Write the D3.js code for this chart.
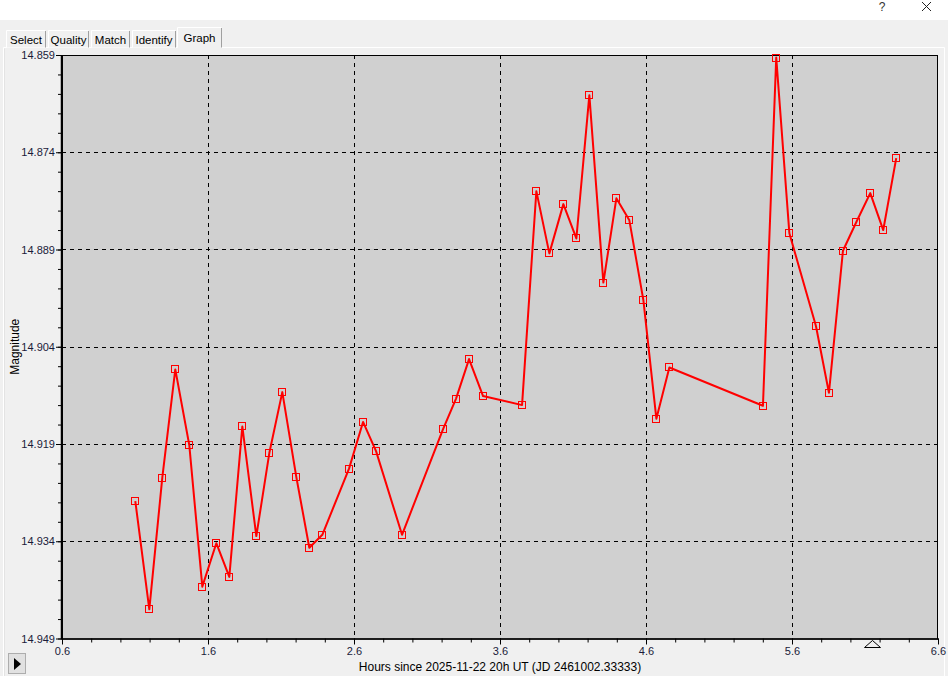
<!DOCTYPE html>
<html>
<head>
<meta charset="utf-8">
<script src="https://cdn.jsdelivr.net/npm/d3@7"></script>
<style>
  html, body { margin: 0; padding: 0; background: #f0f0f0; }
  svg { display: block; font-family: "Liberation Sans", Arial, sans-serif; }
</style>
</head>
<body>
<svg id="chart" width="948" height="676"></svg>
<script>
// ---- Data ----
const hours = [1.102, 1.198, 1.287, 1.376, 1.472, 1.561, 1.657, 1.746, 1.835, 1.931,
               2.020, 2.109, 2.205, 2.294, 2.383, 2.566, 2.662, 2.751, 2.929, 3.210,
               3.299, 3.388, 3.484, 3.751, 3.849, 3.938, 4.034, 4.123, 4.212, 4.308,
               4.397, 4.486, 4.582, 4.671, 4.760, 5.401, 5.492, 5.582, 5.764, 5.853,
               5.949, 6.040, 6.136, 6.225, 6.314];
const magnitudes = [14.9278, 14.9445, 14.9242, 14.9075, 14.9192, 14.9410, 14.9343, 14.9395, 14.9163, 14.9332,
                    14.9204, 14.9110, 14.9241, 14.9350, 14.9330, 14.9228, 14.9156, 14.9201, 14.9330, 14.9167,
                    14.9120, 14.9059, 14.9116, 14.9130, 14.8800, 14.8896, 14.8820, 14.8873, 14.8652, 14.8941,
                    14.8811, 14.8845, 14.8968, 14.9151, 14.9072, 14.9131, 14.8594, 14.8865, 14.9008, 14.9111,
                    14.8892, 14.8848, 14.8803, 14.8860, 14.8749];
const xTickValues = [0.6, 1.6, 2.6, 3.6, 4.6, 5.6, 6.6];
const xTickLabels = ["0.6", "1.6", "2.6", "3.6", "4.6", "5.6", "6.6"];
const yTickValues = [14.859, 14.874, 14.889, 14.904, 14.919, 14.934, 14.949];
const yTickLabels = ["14.859", "14.874", "14.889", "14.904", "14.919", "14.934", "14.949"];
const tabNames = ["Select", "Quality", "Match", "Identify", "Graph"];
const markerHour = [6.15];
const xTitle = "Hours since 2025-11-22 20h UT (JD 2461002.33333)";
const yTitle = "Magnitude";

// ---- Layout ----
const svg = d3.select("#chart");
const L = 62, R = 938, T = 55, B = 638.5;
const x = d3.scaleLinear().domain([0.6, 6.6]).range([L, R]);
const y = d3.scaleLinear().domain([14.859, 14.949]).range([T, B]);

// window chrome
svg.append("rect").attr("x", 0).attr("y", 0).attr("width", 948).attr("height", 676).attr("fill", "#f0f0f0");
svg.append("rect").attr("x", 0).attr("y", 0).attr("width", 948).attr("height", 20).attr("fill", "#ffffff");
svg.append("text").attr("x", 882).attr("y", 11).attr("font-size", 12).attr("text-anchor", "middle").attr("fill", "#333").text("?");
svg.append("path").attr("d", "M922,2 L931,11 M931,2 L922,11").attr("stroke", "#222").attr("stroke-width", 1).attr("fill", "none");

// tab panel border
svg.append("path").attr("d", "M3.5,676 L3.5,47.5 L944.5,47.5 L944.5,676")
  .attr("fill", "none").attr("stroke", "#ffffff").attr("stroke-width", 1);
svg.append("path").attr("d", "M4.5,676 L4.5,48.5")
  .attr("fill", "none").attr("stroke", "#e3e3e3").attr("stroke-width", 1);

// tabs
const tabEdges = [5, 47, 90, 131, 177, 222];
const tabs = svg.append("g");
tabNames.forEach((name, i) => {
  const sel = name === "Graph";
  const x0 = tabEdges[i] + (sel ? 0 : 1), x1 = tabEdges[i + 1] - (sel ? 0 : 1);
  const top = sel ? 27 : 30;
  tabs.append("rect").attr("x", x0 + 0.5).attr("y", top + 0.5).attr("width", x1 - x0 - 1).attr("height", 47 - top + (sel ? 1 : 0))
    .attr("fill", sel ? "#f0f0f0" : "#f0f0f0").attr("stroke", "none");
  tabs.append("path").attr("d", `M${x0 + 0.5},47.5 L${x0 + 0.5},${top + 0.5} L${x1 - 0.5},${top + 0.5}`)
    .attr("fill", "none").attr("stroke", "#ffffff");
  tabs.append("path").attr("d", `M${x1 - 0.5},${top + 1} L${x1 - 0.5},47.5`)
    .attr("fill", "none").attr("stroke", "#a0a0a0");
  tabs.append("text").attr("x", (x0 + x1) / 2).attr("y", sel ? 42 : 44).attr("font-size", 11.5)
    .attr("text-anchor", "middle").attr("fill", "#000").text(name);
});

// plot background
svg.append("rect").attr("x", L).attr("y", T).attr("width", R - L).attr("height", B - T).attr("fill", "#d0d0d0");

// grid
const grid = svg.append("g").attr("stroke", "#000").attr("stroke-width", 1).attr("stroke-dasharray", "4,4");
xTickValues.slice(1, -1).forEach(v => {
  const px = Math.round(x(v)) + 0.5;
  grid.append("line").attr("x1", px).attr("x2", px).attr("y1", T).attr("y2", B);
});
yTickValues.slice(1, -1).forEach(v => {
  const py = Math.round(y(v)) + 0.5;
  grid.append("line").attr("x1", L).attr("x2", R).attr("y1", py).attr("y2", py);
});

// frame
svg.append("rect").attr("x", L + 0.5).attr("y", T + 0.5).attr("width", R - L - 1).attr("height", B - T)
  .attr("fill", "none").attr("stroke", "#000").attr("stroke-width", 1);
svg.append("line").attr("x1", L).attr("x2", R).attr("y1", B + 0.5).attr("y2", B + 0.5).attr("stroke", "#000").attr("stroke-width", 1.5);
svg.append("line").attr("x1", L - 0.5).attr("x2", L - 0.5).attr("y1", T).attr("y2", B + 1).attr("stroke", "#000").attr("stroke-width", 1.5);

// axes: minor ticks
const xMinor = d3.range(0, 31).map(i => 0.6 + i * 0.2);
const yMinor = d3.range(0, 31).map(i => 14.859 + i * 0.003);
svg.append("g").attr("transform", `translate(0,${B})`)
  .call(d3.axisBottom(x).tickValues(xMinor).tickSize(4).tickFormat(""))
  .call(g => g.select(".domain").remove());
svg.append("g").attr("transform", `translate(${L},0)`)
  .call(d3.axisLeft(y).tickValues(yMinor).tickSize(4).tickFormat(""))
  .call(g => g.select(".domain").remove());

// axes: major ticks with labels
const xAxis = svg.append("g").attr("transform", `translate(0,${B})`)
  .call(d3.axisBottom(x).tickValues(xTickValues).tickSize(6).tickPadding(3).tickFormat((d, i) => xTickLabels[i]));
xAxis.select(".domain").remove();
xAxis.selectAll("text").attr("font-size", 11).attr("font-family", "Liberation Sans, Arial, sans-serif").attr("fill", "#1b1b3a");

const yAxis = svg.append("g").attr("transform", `translate(${L},0)`)
  .call(d3.axisLeft(y).tickValues(yTickValues).tickSize(6).tickPadding(1).tickFormat((d, i) => yTickLabels[i]));
yAxis.select(".domain").remove();
yAxis.selectAll("text").attr("font-size", 11).attr("font-family", "Liberation Sans, Arial, sans-serif").attr("fill", "#1b1b3a");

// axis titles
svg.append("text").attr("x", (L + R) / 2).attr("y", 671).attr("text-anchor", "middle")
  .attr("font-size", 12).attr("fill", "#000").text(xTitle);
svg.append("text").attr("transform", `translate(19,${(T + B) / 2}) rotate(-90)`).attr("text-anchor", "middle")
  .attr("font-size", 12).attr("fill", "#000").text(yTitle);

// data line and markers
const pts = hours.map((h, i) => ({ h, m: magnitudes[i] }));
const clipId = "plotclip";
svg.append("clipPath").attr("id", clipId).append("rect").attr("x", L).attr("y", T - 4).attr("width", R - L).attr("height", B - T + 4);
const plot = svg.append("g");
plot.append("path").datum(pts)
  .attr("d", d3.line().x(d => x(d.h)).y(d => y(d.m)))
  .attr("fill", "none").attr("stroke", "#ff0000").attr("stroke-width", 2).attr("stroke-linejoin", "round");
plot.selectAll("rect.pt").data(pts).join("rect").attr("class", "pt")
  .attr("x", d => Math.round(x(d.h)) - 3.5).attr("y", d => Math.round(y(d.m)) - 3.5)
  .attr("width", 7).attr("height", 7)
  .attr("fill", "none").attr("stroke", "#ff0000").attr("stroke-width", 1);

// marker triangle under x axis
svg.selectAll("path.tri").data(markerHour).join("path").attr("class", "tri")
  .attr("d", d => { const cx = Math.round(x(d)) + 0.5; return `M${cx},${B + 2} L${cx + 8},${B + 9} L${cx - 8},${B + 9} Z`; })
  .attr("fill", "#f0f0f0").attr("stroke", "#000").attr("stroke-width", 1);

// play button bottom-left
svg.append("rect").attr("x", 8.5).attr("y", 653.5).attr("width", 17).attr("height", 20)
  .attr("fill", "#e1e1e1").attr("stroke", "#adadad");
svg.append("path").attr("d", "M14,658 L21,664 L14,670 Z").attr("fill", "#000");
</script>
</body>
</html>
